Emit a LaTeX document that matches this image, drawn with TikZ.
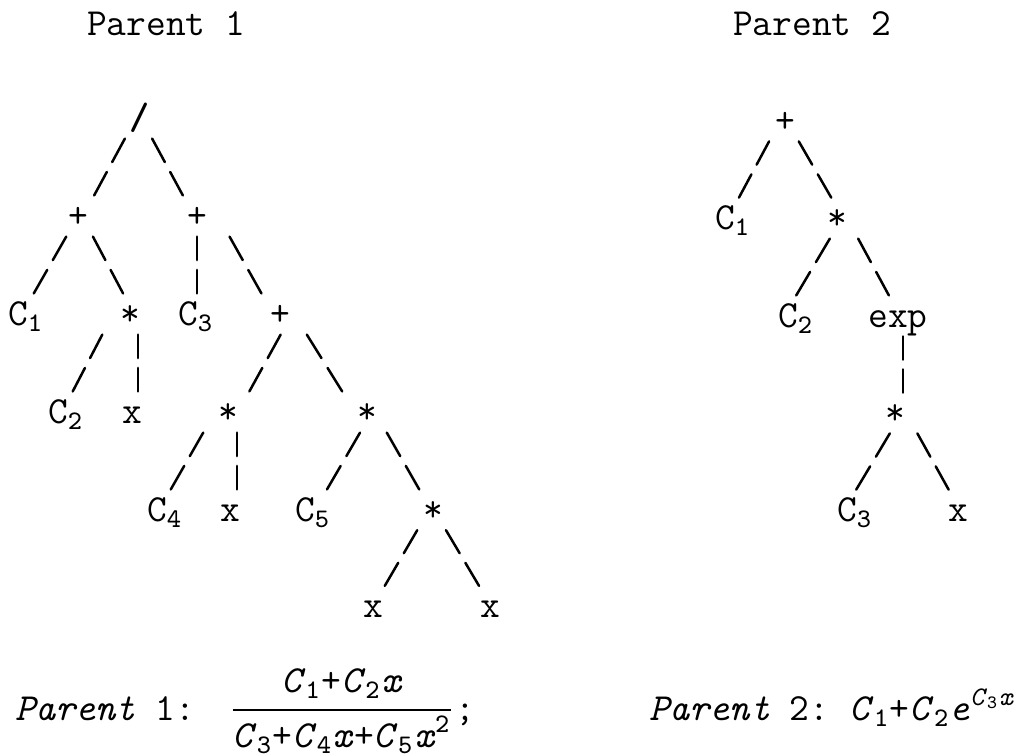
\documentclass[tikz,border=0pt]{standalone}
\tikzset{
  lbl/.style={inner sep=0pt, text height=7.1pt, text depth=0pt},
  bot/.style={inner sep=0pt, anchor=base east, font=\fontsize{11.5}{13}\selectfont\ttfamily},
  twigline/.style={line width=.75pt, line cap=round},
}
\newcommand\csub[1]{C\rlap{\textsubscript{#1}}}
\newcommand\coef[1]{\textit{C}\textsubscript{#1}}
\newcommand\xv{\textit{x}}
\NewDocumentCommand\twig{O{0}O{0}mm}{%
  \path ([shift={(#1,0)}]#3.center) -- coordinate[pos=.21] (tw1) coordinate[pos=.45] (tw2)
    coordinate[pos=.55] (tw3) coordinate[pos=.79] (tw4) ([shift={(#2,0)}]#4.center);
  \draw[twigline] (tw1) -- (tw2) (tw3) -- (tw4);}
\begin{document}
\begin{tikzpicture}[x=0.3pt,y=-0.3pt,font=\fontsize{11.5}{13}\selectfont\ttfamily]
\useasboundingbox (0,0) rectangle (1026,755);
\node (head1) at (166,24) {Parent 1};
\node (head2) at (812,24) {Parent 2};
% parent 1
\node[lbl] (r1) at (140,118) {\textbf{/}};
\node[lbl] (a1) at (78,216) {+};
\node[lbl] (b1) at (197,216) {+};
\node[lbl] (c1) at (18,314) {\csub1};
\node[lbl] (d1) at (130,314) {*};
\node[lbl] (e1) at (188,314) {\csub3};
\node[lbl] (f1) at (280,314) {+};
\node[lbl] (g1) at (58,412) {\csub2};
\node[lbl] (h1) at (132,412) {x};
\node[lbl] (i1) at (228,412) {*};
\node[lbl] (j1) at (367,412) {*};
\node[lbl] (k1) at (157,510) {\csub4};
\node[lbl] (l1) at (230,510) {x};
\node[lbl] (m1) at (305,510) {\csub5};
\node[lbl] (n1) at (433,510) {*};
\node[lbl] (o1) at (373,606) {x};
\node[lbl] (p1) at (490,606) {x};
\twig[-4][5]{r1}{a1}
\twig[1][-3]{r1}{b1}
\twig[0][4]{a1}{c1}
\twig[4][4]{a1}{d1}
\twig[0][9]{b1}{e1}
\twig[21][-7]{b1}{f1}
\twig[-17][4]{d1}{g1}
\twig[8][6]{d1}{h1}
\twig[12][10]{f1}{i1}
\twig[14][-12]{f1}{j1}
\twig[-13][2]{i1}{k1}
\twig[9][7]{i1}{l1}
\twig[5][10]{j1}{m1}
\twig[8][-2]{j1}{n1}
\twig[-4][0]{n1}{o1}
\twig[1][1]{n1}{p1}
% parent 2
\node[lbl] (r2) at (785,121) {+};
\node[lbl] (a2) at (725,218) {\csub1};
\node[lbl] (b2) at (837,218) {*};
\node[lbl] (c2) at (788,316) {\csub2};
\node[lbl] (d2) at (898,316) {exp};
\node[lbl] (e2) at (895,413) {*};
\node[lbl] (f2) at (847,510) {\csub3};
\node[lbl] (g2) at (958,510) {x};
\twig[-5][3]{r2}{a2}
\twig[2][6]{r2}{b2}
\twig[5][-4]{b2}{c2}
\twig[10][2]{b2}{d2}
\twig[5][8]{d2}{e2}
\twig[7][-3]{e2}{f2}
\twig[11][2]{e2}{g2}
% expressions
\node[bot] (lab1) at (196,720) {\textit{Parent} 1:};
\node[bot, anchor=base west] (frac1) at (228,720)
  {$\displaystyle\frac{\mbox{\coef1+\coef2\xv}}{\mbox{\coef3+\coef4\xv+\coef5\xv\textsuperscript{2}}}$;};
\node[bot] (lab2) at (830,720) {\textit{Parent} 2:};
\node[bot] (form2) at (1016,720) {\coef1+\coef2\textit{e}\textsuperscript{\coef3\xv}};
\end{tikzpicture}
\end{document}
